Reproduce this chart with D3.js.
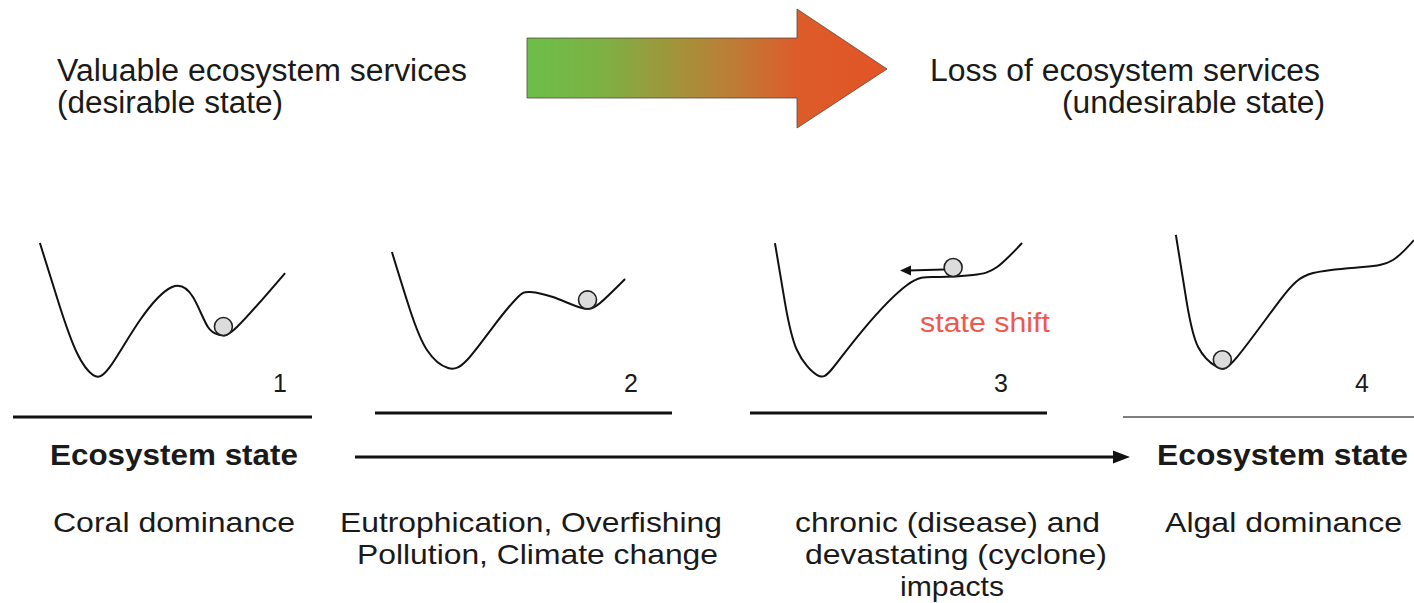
<!DOCTYPE html>
<html>
<head>
<meta charset="utf-8">
<script src="https://cdn.jsdelivr.net/npm/d3@7"></script>
<style>
  html, body { margin: 0; padding: 0; background: #ffffff; }
  svg { display: block; }
  text { font-family: "Liberation Sans", Arial, Helvetica, sans-serif; fill: #1a1a1a; }
</style>
</head>
<body>
<svg id="chart" width="1414" height="603"></svg>
<script>
// ---------------- DATA ----------------
// panel labels (stage numbers)
const stages = ["1", "2", "3", "4"];
// landscape curves: [u (0-100 across panel), potential v (0-100)]
const landscape1 = [[9.0,91.3],[15.7,48.7],[21.4,18],[26.8,3.3],[32.4,8.7],[42.5,40],[53.2,62],[60.2,55.3],[65.2,35.3],[69.2,30],[74.9,35.3],[91,71.3]];
const landscape2 = [[5.7,85.3],[11.8,46.7],[17.5,20],[24.6,8],[31,13.3],[39.7,35.3],[47.8,54.7],[52.2,58.7],[59.9,55.3],[69.7,48],[75.8,51.3],[84.2,67.3]];
const landscape3 = [[8.4,91.3],[11.8,51.3],[15.8,20],[22.6,3.3],[27.9,8],[38,33.3],[52.9,63.3],[63,68.7],[75.1,70],[83.2,75.3],[91.6,91.3]];
const landscape4 = [[17.8,96.7],[21.5,51.3],[25.3,22],[31.6,8.7],[38.4,15.3],[52.9,53.3],[64,71.3],[80.8,75.3],[90.9,80],[98,93.3]];
// ball position (u) on each landscape; settles in nearest valley except in stage 3
const ballU = [69.2, 69.7, 68.4, 31.6];
const ballInValley = [true, true, false, true];
// text
const topLeftLines = ["Valuable ecosystem services", "(desirable state)"];
const topRightLines = ["Loss of ecosystem services", "(undesirable state)"];
const axisLabel = "Ecosystem state";
const driverTexts = [
  ["Coral dominance"],
  ["Eutrophication, Overfishing", "Pollution, Climate change"],
  ["chronic (disease) and", "devastating (cyclone)", "impacts"],
  ["Algal dominance"]
];
const shiftLabel = "state shift";

// ---------------- LAYOUT ----------------
const svg = d3.select("#chart");
const defs = svg.append("defs");

const panelRanges = [[13, 312], [375, 672], [750, 1047], [1123, 1420]];
const lineY = [417, 413, 413, 417];
const yScale = d3.scaleLinear().domain([0, 100]).range([380, 230]);
const landscapes = [landscape1, landscape2, landscape3, landscape4];

// ---- gradient arrow on top ----
const grad = defs.append("linearGradient").attr("id", "arrowGrad")
  .attr("x1", 0).attr("x2", 1).attr("y1", 0).attr("y2", 0);
[[0, "#6cbe49"], [0.2, "#7cb244"], [0.4, "#a0953b"], [0.6, "#c27834"], [0.75, "#dc5c2a"], [1, "#e35426"]]
  .forEach(([o, c]) => grad.append("stop").attr("offset", o).attr("stop-color", c));

const ax = d3.scaleLinear().domain([0, 1]).range([527, 887]);
const ay = d3.scaleLinear().domain([0, 1]).range([9, 128]);
const arrowPts = [[0, 0.244], [0.75, 0.244], [0.75, 0], [1, 0.504], [0.75, 1], [0.75, 0.748], [0, 0.748]];
svg.append("path")
  .attr("d", d3.line().x(d => ax(d[0])).y(d => ay(d[1])).curve(d3.curveLinearClosed)(arrowPts))
  .attr("fill", "url(#arrowGrad)")
  .attr("stroke", "#5a4a3a").attr("stroke-width", 0.8);

// ---- text helper ----
function txt(s, x, y, len, opts = {}) {
  const t = svg.append("text")
    .attr("x", x).attr("y", y)
    .attr("font-size", opts.size || 28)
    .attr("font-weight", opts.bold ? "bold" : "normal")
    .text(s);
  if (len) t.attr("textLength", len).attr("lengthAdjust", "spacingAndGlyphs");
  if (opts.color) t.style("fill", opts.color);
  return t;
}

// top texts
txt(topLeftLines[0], 57, 81, 410, { size: 31 });
txt(topLeftLines[1], 57, 113, 226, { size: 31 });
txt(topRightLines[0], 930, 81, 390, { size: 31 });
txt(topRightLines[1], 1062, 113, 263, { size: 31 });

// ---- panels ----
const lineGen = d3.line().curve(d3.curveNatural);
landscapes.forEach((pts, i) => {
  const xs = d3.scaleLinear().domain([0, 100]).range(panelRanges[i]);
  const g = svg.append("g");
  const gen = lineGen.x(d => xs(d[0])).y(d => yScale(d[1]));
  const path = g.append("path")
    .attr("d", gen(pts))
    .attr("fill", "none").attr("stroke", "#111").attr("stroke-width", 2);

  const node = path.node();
  const L = node.getTotalLength();
  function yAtX(x) {
    let lo = 0, hi = L;
    for (let k = 0; k < 40; k++) {
      const mid = (lo + hi) / 2;
      if (node.getPointAtLength(mid).x < x) lo = mid; else hi = mid;
    }
    return node.getPointAtLength(lo).y;
  }
  let bx = xs(ballU[i]);
  if (ballInValley[i]) {
    // settle ball into the drawn valley's lowest point nearby
    let best = bx, bestY = -Infinity;
    for (let dx = -12; dx <= 12; dx += 0.5) {
      const yy = yAtX(bx + dx);
      if (yy > bestY) { bestY = yy; best = bx + dx; }
    }
    bx = best;
  }
  const by = yAtX(bx);
  const r = 9;

  if (i === 2) {
    // push arrow for state shift
    const arrowY = by - r + 2;
    const x1 = bx - r, x2 = xs(50.5);
    g.append("line").attr("x1", x1).attr("x2", x2 + 8).attr("y1", arrowY).attr("y2", arrowY + 1)
      .attr("stroke", "#111").attr("stroke-width", 2);
    g.append("path")
      .attr("d", d3.line()([[x2, arrowY + 1], [x2 + 11, arrowY - 4], [x2 + 11, arrowY + 6]]) + "Z")
      .attr("fill", "#111");
  }

  g.append("circle")
    .attr("cx", bx).attr("cy", by - r)
    .attr("r", r)
    .attr("fill", "#dcdcdc").attr("stroke", "#222").attr("stroke-width", 1.6);

  // baseline
  g.append("line")
    .attr("x1", panelRanges[i][0]).attr("x2", Math.min(panelRanges[i][1], 1414))
    .attr("y1", lineY[i]).attr("y2", lineY[i])
    .attr("stroke", i === 3 ? "#555" : "#111")
    .attr("stroke-width", i === 3 ? 1.6 : 3);

  // stage number
  const numX = [280, 631, 1001, 1362][i];
  txt(stages[i], numX, 392, null, { size: 25 }).attr("text-anchor", "middle");
});

txt(shiftLabel, 920, 332, 130, { size: 27, color: "#f0574d" });

// ---- bottom axis ----
txt(axisLabel, 50, 465, 248, { bold: true, size: 30 });
txt(axisLabel, 1157, 465, 251, { bold: true, size: 30 });
svg.append("line").attr("x1", 355).attr("x2", 1116).attr("y1", 457).attr("y2", 457)
  .attr("stroke", "#111").attr("stroke-width", 3);
svg.append("path")
  .attr("d", d3.line()([[1130, 457], [1113, 450.5], [1113, 463.5]]) + "Z")
  .attr("fill", "#111");

// ---- driver texts ----
const driverLayout = [
  { lines: [[53, 532, 242]] },
  { lines: [[340, 532, 382], [357, 564, 361]] },
  { lines: [[795, 532, 305], [805, 564, 302], [900, 596, 104]] },
  { lines: [[1165, 532, 237]] }
];
driverTexts.forEach((lines, i) => {
  lines.forEach((s, j) => {
    const [x, y, len] = driverLayout[i].lines[j];
    txt(s, x, y, len, { size: 28.5 });
  });
});
</script>
</body>
</html>
